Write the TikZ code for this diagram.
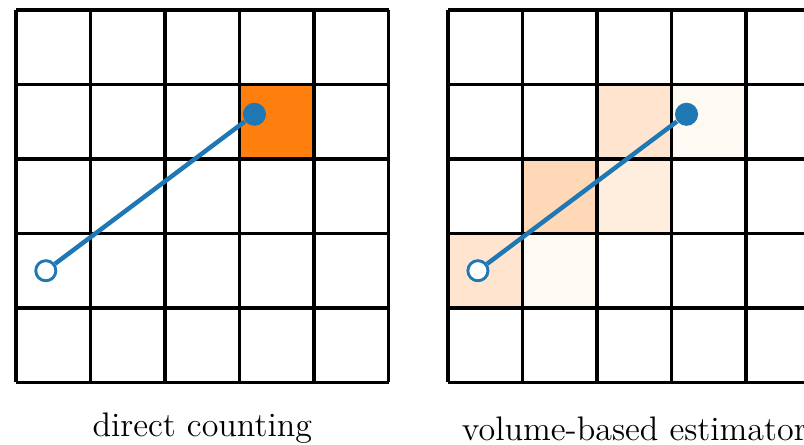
\documentclass[tikz,border=0pt]{standalone}
\usepackage{tikz}
\definecolor{pathblue}{RGB}{31,119,180}
\definecolor{cellorange}{RGB}{255,127,14}

\begin{document}
\begin{tikzpicture}[scale=1,
    gridline/.style={line width=1.3pt},
    ray/.style={pathblue, line width=1.7pt},
    startpt/.style={circle, draw=pathblue, fill=white, line width=1.1pt, inner sep=0pt, minimum size=0.27cm},
    endpt/.style={circle, fill=pathblue, inner sep=0pt, minimum size=0.31cm},
    caption/.style={font=\fontsize{13}{15}\selectfont}]
    \useasboundingbox (-0.215,-0.832) rectangle (10.577,5.134);

    % direct counting
    \fill[cellorange] (3,3) rectangle (4,4);
    \draw[gridline] (0,0) grid (5,5);
    \node[startpt] (startL) at (0.4,1.5) {};
    \node[endpt] (endL) at (3.2,3.6) {};
    \draw[ray] (startL) -- (endL);
    \node[caption] (capL) at (2.5,-0.62) {direct counting};

    % volume-based estimator
    \begin{scope}[xshift=5.8cm]
        \fill[cellorange!20!white] (0,1) rectangle (1,2);
        \fill[cellorange!5!white] (1,1) rectangle (2,2);
        \fill[cellorange!30!white] (1,2) rectangle (2,3);
        \fill[cellorange!14!white] (2,2) rectangle (3,3);
        \fill[cellorange!20!white] (2,3) rectangle (3,4);
        \fill[cellorange!5!white] (3,3) rectangle (4,4);
        \draw[gridline] (0,0) grid (5,5);
        \node[startpt] (startR) at (0.4,1.5) {};
        \node[endpt] (endR) at (3.2,3.6) {};
        \draw[ray] (startR) -- (endR);
        \node[caption] (capR) at (2.5,-0.62) {volume-based estimator};
    \end{scope}
\end{tikzpicture}
\end{document}
